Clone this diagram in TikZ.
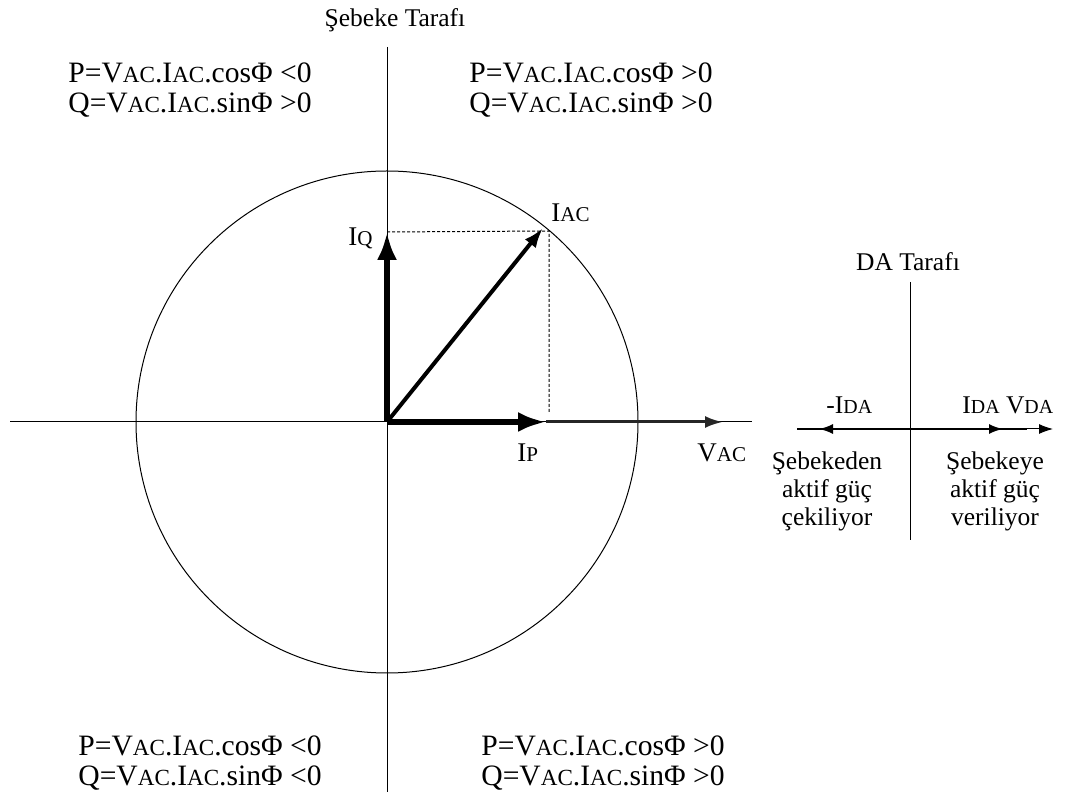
\documentclass[tikz,border=0pt]{standalone}
\usepackage{fontspec}
\setmainfont{Liberation Serif}
\usetikzlibrary{arrows.meta}
\makeatletter
\newcommand{\sml}[1]{{\fontsize{\the\dimexpr0.78\dimexpr\f@size pt\relax\relax}{\baselineskip}\selectfont #1}}
\makeatother

\begin{document}
\begin{tikzpicture}[x=0.5pt,y=-0.5pt,>=Latex,font=\fontsize{12.75}{14}\selectfont,
  lbl/.style={inner sep=0pt},
  veclbl/.style={inner sep=0pt,anchor=base west,font=\fontsize{13.5}{14}\selectfont},
  eqn/.style={inner sep=0pt,anchor=base west,align=left,font=\fontsize{14.8}{15}\selectfont},
  thin axis/.style={line width=0.5pt},
  bigvec/.style={line width=3pt,-{Latex[length=14pt,width=10pt]}},
  dcvec/.style={line width=1pt,-{Latex[length=7pt,width=5pt]}}]
\useasboundingbox (0,0) rectangle (1066,801);
% AC side
\coordinate (O) at (387,422);
\coordinate (ytop) at (387,47); \coordinate (ybot) at (387,792);
\coordinate (xl) at (10,422); \coordinate (xr) at (752,422);
\draw[thin axis] (ytop)--(ybot); \draw[thin axis] (xl)--(xr);
\draw[thin axis] (O) circle (251);
\coordinate (iq) at (387,232); \coordinate (ip) at (546,422);
\coordinate (iac) at (543,228); \coordinate (vac) at (723,422);
\coordinate (dq) at (549,231); \coordinate (dp) at (549,412);
\draw[thin axis,dash pattern=on 1.5pt off 1pt] (iq)--(dq)--(dp);
\draw[line width=1.5pt,black!85,-{Latex[length=9pt,width=6pt]}] (ip)--(vac);
\draw[bigvec] (O)--(iq);
\draw[bigvec] (O)--(ip);
\draw[line width=2pt,-{Latex[length=10pt,width=7pt]}] (O)--(iac);
\node[lbl,anchor=base] (setitle) at (395,27){Şebeke Tarafı};
\node[eqn] (q2) at (68,113){P=V\sml{AC}.I\sml{AC}.cosΦ <0\\Q=V\sml{AC}.I\sml{AC}.sinΦ >0};
\node[eqn] (q1) at (469,113){P=V\sml{AC}.I\sml{AC}.cosΦ >0\\Q=V\sml{AC}.I\sml{AC}.sinΦ >0};
\node[eqn] (q3) at (78,785){P=V\sml{AC}.I\sml{AC}.cosΦ <0\\Q=V\sml{AC}.I\sml{AC}.sinΦ <0};
\node[eqn] (q4) at (481,785){P=V\sml{AC}.I\sml{AC}.cosΦ >0\\Q=V\sml{AC}.I\sml{AC}.sinΦ >0};
\node[veclbl] (iqlbl) at (348,246){I\sml{Q}};
\node[veclbl] (iaclbl) at (551,222){I\sml{AC}};
\node[veclbl] (iplbl) at (517,462){I\sml{P}};
\node[veclbl] (vaclbl) at (697,462){V\sml{AC}};
% DC side
\coordinate (D) at (910,429);
\coordinate (dtop) at (910,282); \coordinate (dbot) at (910,540);
\coordinate (dl) at (797,429); \coordinate (dr) at (1027,429);
\coordinate (idan) at (819,429); \coordinate (ida) at (1003,429);
\coordinate (vda) at (1053,429);
\draw[thin axis] (dtop)--(dbot);
\draw[line width=1pt] (dl)--(dr);
\draw[dcvec] (D)--(idan);
\draw[dcvec] (D)--(ida);
\draw[thin axis,-{Latex[length=7pt,width=5pt]}] (D)--(vda);
\node[lbl,anchor=base] (datitle) at (908,271){DA Tarafı};
\node[lbl,anchor=base west] (idanlbl) at (826,414){-I\sml{DA}};
\node[lbl,anchor=base west] (idalbl) at (962,414){I\sml{DA} V\sml{DA}};
\node[lbl,anchor=base,align=center] (cek) at (827,526){Şebekeden\\aktif güç\\çekiliyor};
\node[lbl,anchor=base,align=center] (ver) at (995,526){Şebekeye\\aktif güç\\veriliyor};
\end{tikzpicture}
\end{document}
